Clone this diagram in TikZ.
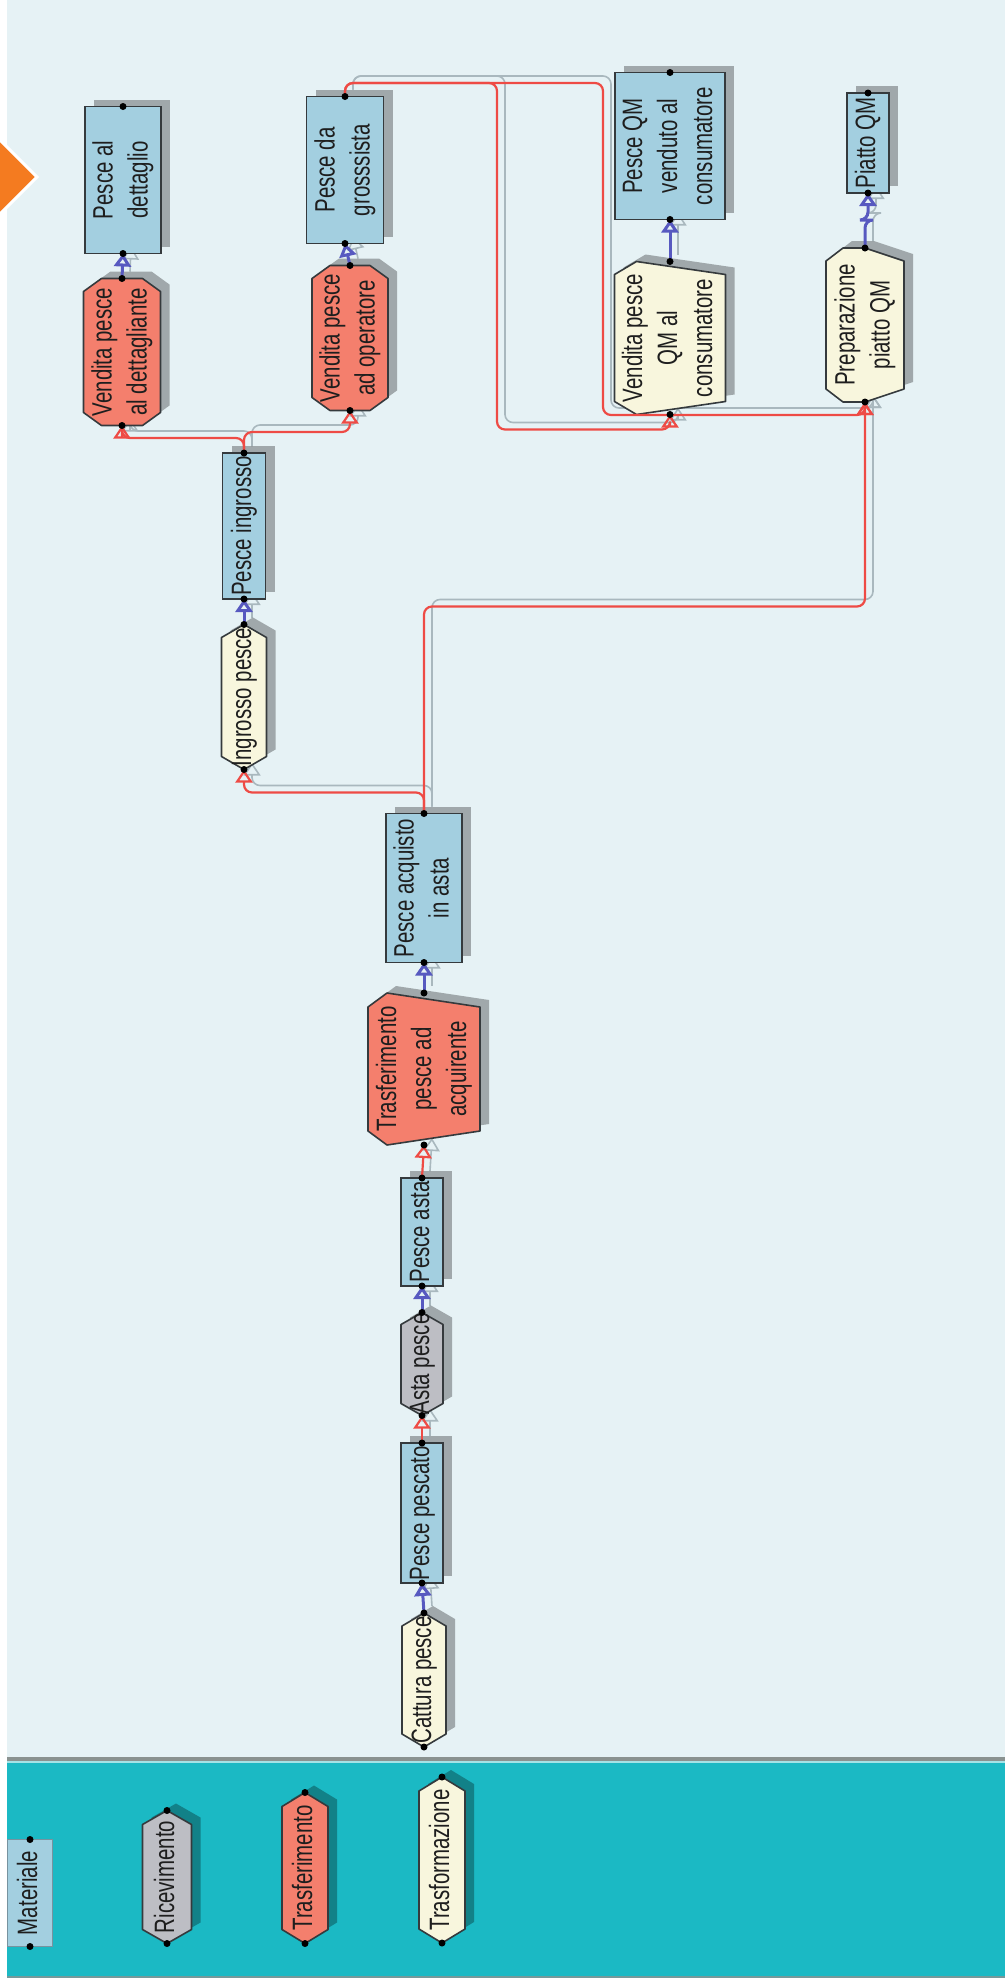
\documentclass[tikz,border=0pt]{standalone}
\usepackage{fontspec}
\setmainfont{Liberation Sans}[FakeStretch=0.73]
\usetikzlibrary{shadows,arrows.meta,calc}

\definecolor{pane}{HTML}{E6F2F5}
\definecolor{band}{HTML}{1BB9C4}
\definecolor{rule}{HTML}{8A9290}
\definecolor{signorange}{HTML}{F47B20}
\definecolor{matblue}{HTML}{A3CFE0}
\definecolor{trred}{HTML}{F47F6D}
\definecolor{cream}{HTML}{F8F6DD}
\definecolor{recgray}{HTML}{BDBEC4}
\definecolor{edge}{HTML}{353A3D}
\definecolor{ink}{HTML}{1E1E1E}
\definecolor{feedred}{HTML}{EE4B45}
\definecolor{yieldblue}{HTML}{5759C0}
\definecolor{ghostgray}{HTML}{A9B8BE}

\pgfdeclarelayer{canvas}
\pgfdeclarelayer{back}
\pgfdeclarelayer{shade}
\pgfdeclarelayer{shapes}
\pgfsetlayers{canvas,back,shade,shapes,main}

% rotated, centred text of zero size, so the node keeps its minimum size
\newcommand\vtext[1]{\makebox[0pt]{\raisebox{-.5\height}[0pt][0pt]{\rotatebox{90}{\begin{tabular}{@{}c@{}}#1\end{tabular}}}}}
% a flow: grey trace behind, coloured line on top
\newcommand\flow[2]{\begin{pgfonlayer}{back}\draw[ghost] #2;\end{pgfonlayer}\draw[#1] #2;}
% cut outline of a process node: node, left cut, right cut, cut depth
\newcommand\facetpath[4]{($(#1.north west)+(0,#4)$) -- ($(#1.north west)+(#2,0)$) -- ($(#1.north east)+(-#3,0)$) -- ($(#1.north east)+(0,#4)$) -- ($(#1.south east)+(0,-#4)$) -- ($(#1.south east)+(-#3,0)$) -- ($(#1.south west)+(#2,0)$) -- ($(#1.south west)+(0,-#4)$) -- cycle}
\newcommand\facet[5]{%
	\begin{pgfonlayer}{shade}
		\fill[black, opacity=.3, transform canvas={shift={(9pt,7pt)}}] \facetpath{#1}{#2}{#3}{#4};
	\end{pgfonlayer}
	\begin{pgfonlayer}{shapes}
		\filldraw[fill=#5, draw=edge, line width=1.6pt, line join=round] \facetpath{#1}{#2}{#3}{#4};
	\end{pgfonlayer}}

\tikzset{
	slot/.style={rectangle, inner sep=0pt, outer sep=0pt, text=ink, font=\fontsize{28}{35}\selectfont},
	dims/.style 2 args={minimum width=#1pt, minimum height=#2pt},
	material/.style={slot, draw=edge, line width=1.6pt, fill=matblue, drop shadow={shadow xshift=9pt, shadow yshift=7pt, fill=black, opacity=.3}},
	feed/.style={draw=feedred, line width=2.2pt, rounded corners=8pt, -{Triangle[open, length=13pt, width=17pt]}},
	yield/.style={draw=yieldblue, line width=3pt, rounded corners=8pt, -{Triangle[open, length=13pt, width=17pt]}},
	ghost/.style={draw=ghostgray, line width=1.6pt, rounded corners=8pt, -{Triangle[open, length=13pt, width=17pt]}, transform canvas={shift={(8pt,7pt)}}}
}

\begin{document}
\begin{tikzpicture}[x=1pt, y=-1pt]
	\useasboundingbox (0,0) rectangle (1005,1984);
	\begin{pgfonlayer}{canvas}
		\fill[white] (0,0) rectangle (1005,1984);
		\fill[pane] (7,0) rectangle (1005,1757);
		\fill[rule] (7,1757) rectangle (1005,1761);
		\fill[band!40] (7,1761) rectangle (1005,1763);
		\fill[band] (7,1763) rectangle (1005,1976);
		\fill[rule!80!band] (7,1976) rectangle (1005,1978);
		\filldraw[fill=signorange, draw=white, line width=3pt] (-37,177) -- (0,140) -- (37,177) -- (0,214) -- cycle;
	\end{pgfonlayer}

	% materials
	\node[material, dims={76}{147}] (pdettaglio) at (123,180) {\vtext{Pesce al\\dettaglio}};
	\node[material, dims={77}{147}] (pgrossista) at (345,170) {\vtext{Pesce da\\grosssista}};
	\node[material, dims={110}{147}] (pqm) at (670,146) {\vtext{Pesce QM\\venduto al\\consumatore}};
	\node[material, dims={42}{100}] (piatto) at (868,143) {\vtext{Piatto QM}};
	\node[material, dims={43}{146}] (pingrosso) at (244,526) {\vtext{Pesce ingrosso}};
	\node[material, dims={76}{149}] (pacquisto) at (424,888) {\vtext{Pesce acquisto\\in asta}};
	\node[material, dims={42}{108}] (pasta) at (422,1232) {\vtext{Pesce asta}};
	\node[material, dims={42}{140}] (ppescato) at (422,1513) {\vtext{Pesce pescato}};

	% processes
	\node[slot, dims={77}{147}] (vdettagliante) at (122,352) {\vtext{Vendita pesce\\al dettagliante}};
	\node[slot, dims={76}{145}] (voperatore) at (350,338) {\vtext{Vendita pesce\\ad operatore}};
	\node[slot, dims={111}{153}] (vqm) at (670,338) {\vtext{Vendita pesce\\QM al\\consumatore}};
	\node[slot, dims={78}{154}] (preparazione) at (865,325) {\vtext{Preparazione\\piatto QM}};
	\node[slot, dims={45}{145}] (ingrosso) at (244,697) {\vtext{Ingrosso pesce}};
	\node[slot, dims={112}{152}] (trasferimento) at (424,1069) {\vtext{Trasferimento\\pesce ad\\acquirente}};
	\node[slot, dims={42}{103}] (asta) at (422,1364) {\vtext{Asta pesce}};
	\node[slot, dims={44}{134}] (cattura) at (424,1680) {\vtext{Cattura pesce}};

	\facet{vdettagliante}{18}{18}{13}{trred}
	\facet{voperatore}{18}{18}{13}{trred}
	\facet{vqm}{22}{89}{13}{cream}
	\facet{preparazione}{17}{39}{13}{cream}
	\facet{ingrosso}{22.5}{22.5}{13}{cream}
	\facet{trasferimento}{19}{93}{14}{trred}
	\facet{asta}{21}{21}{12}{recgray}
	\facet{cattura}{22}{22}{13}{cream}

	% legend
	\node[slot, draw=matblue!60!edge, line width=1.6pt, fill=matblue, dims={45}{107}] (lmateriale) at (30,1893) {\vtext{Materiale}};
	\node[slot, dims={49}{133}] (lricevimento) at (167,1877) {\vtext{Ricevimento}};
	\node[slot, dims={46}{151}] (ltrasferimento) at (305,1868) {\vtext{Trasferimento}};
	\node[slot, dims={46}{166}] (ltrasformazione) at (442,1860) {\vtext{Trasformazione}};
	\facet{lricevimento}{24.5}{24.5}{14}{recgray}
	\facet{ltrasferimento}{23}{23}{14}{trred}
	\facet{ltrasformazione}{23}{23}{14}{cream}

	% flows
	\flow{yield}{(cattura.north) -- (ppescato.south)}
	\flow{feed}{(ppescato.north) -- (asta.south)}
	\flow{yield}{(asta.north) -- (pasta.south)}
	\flow{feed}{(pasta.north) -- (trasferimento.south)}
	\flow{yield}{(trasferimento.north) -- (pacquisto.south)}
	\flow{feed}{(pacquisto.north) -- ++(0,-21) -| (ingrosso.south)}
	\flow{feed}{(pacquisto.north) -- ++(0,-207) -| (preparazione.south)}
	\flow{yield}{(ingrosso.north) -- (pingrosso.south)}
	\flow{feed}{(pingrosso.north) -- ++(0,-15) -| (vdettagliante.south)}
	\flow{feed}{(pingrosso.north) -- ++(0,-21) -| (voperatore.south)}
	\flow{yield}{(vdettagliante.north) -- (pdettaglio.south)}
	\flow{yield}{(voperatore.north) -- (pgrossista.south)}
	\flow{feed}{(pgrossista.north) |- (497,83) |- ($(vqm.south)+(0,15)$) -- (vqm.south)}
	\flow{feed}{(pgrossista.north) |- (603,83) |- ($(preparazione.south)+(0,13)$) -- (preparazione.south)}
	\flow{yield}{(vqm.north) -- (pqm.south)}
	\flow{yield}{(preparazione.north) -- ++(0,-28) -| (piatto.south)}

	% ports
	\foreach \n in {pdettaglio,pgrossista,pqm,piatto,pingrosso,pacquisto,pasta,ppescato,
		vdettagliante,voperatore,vqm,preparazione,ingrosso,trasferimento,asta,cattura,
		lmateriale,lricevimento,ltrasferimento,ltrasformazione}
		\fill[black] (\n.north) circle (3.5pt) (\n.south) circle (3.5pt);
\end{tikzpicture}
\end{document}
